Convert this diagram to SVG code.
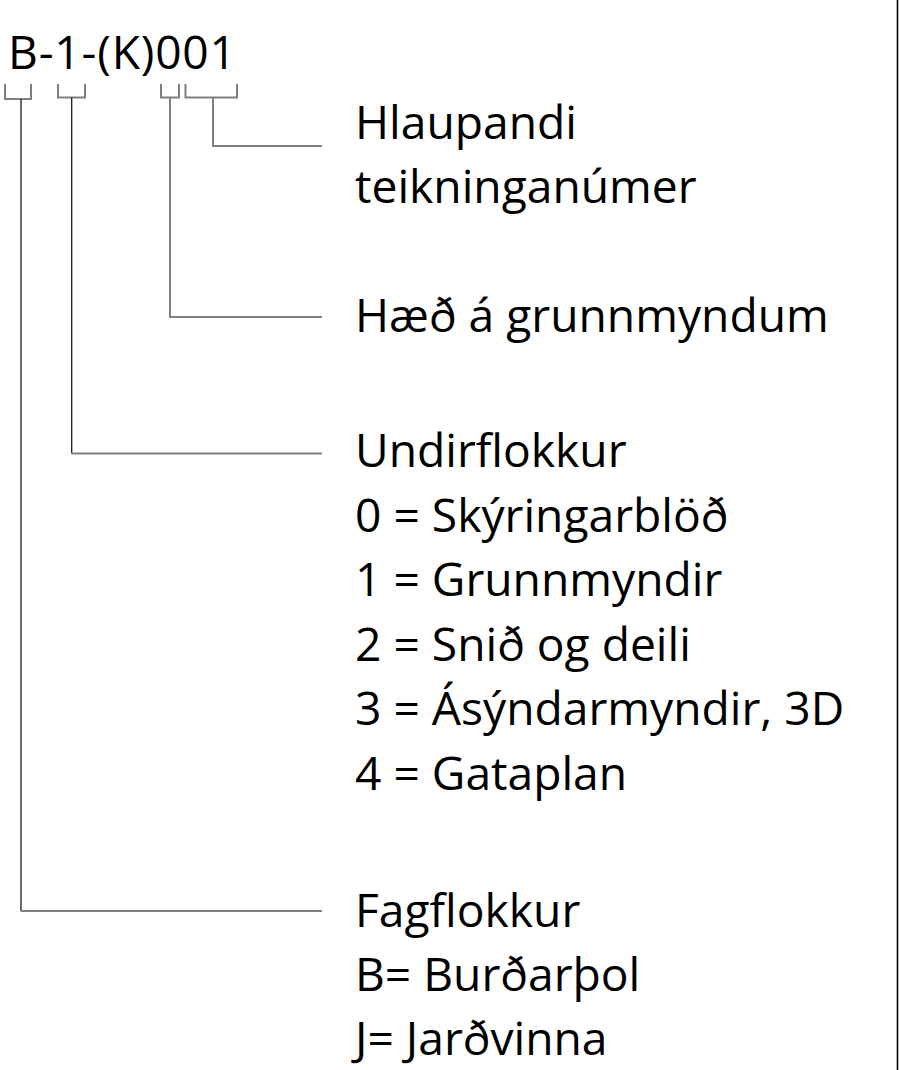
<svg xmlns="http://www.w3.org/2000/svg" width="899" height="1070" viewBox="0 0 899 1070">
<style>
text{font-family:"Open Sans","Noto Sans","DejaVu Sans",sans-serif;font-size:46.2px;fill:#000}
.g{stroke:#808080;stroke-width:2;fill:none}
.k{stroke:#1a1a1a;stroke-width:1.3;fill:none}
</style>
<rect width="899" height="1070" fill="#fff"/>
<line x1="897.5" y1="0" x2="897.5" y2="1070" stroke="#000" stroke-width="1.6"/>
<g id="code"><text x="8" y="69" textLength="228" lengthAdjust="spacing">B-1-(K)001</text></g>
<g id="connectors">
<polyline class="g" points="5,84 5,99 31,99 31,84"/>
<polyline class="g" points="58,84 58,97.5 85,97.5 85,84"/>
<polyline class="g" points="161,84 161,97.5 179,97.5 179,84"/>
<polyline class="g" points="185.5,84 185.5,97.5 237,97.5 237,84"/>
<line class="k" x1="21" y1="99" x2="21" y2="911"/>
<line class="g" x1="20.5" y1="911" x2="322" y2="911"/>
<line class="k" x1="71.7" y1="97.5" x2="71.7" y2="453.5"/>
<line class="g" x1="71" y1="453.5" x2="322" y2="453.5"/>
<line class="g" x1="170" y1="97.5" x2="170" y2="317"/>
<line class="g" x1="169" y1="317" x2="322" y2="317"/>
<line class="g" x1="213" y1="97.5" x2="213" y2="146"/>
<line class="g" x1="212" y1="146" x2="322" y2="146"/>
</g>
<g id="hlaupandi"><text x="355" y="139">Hlaupandi</text><text x="355" y="203">teikninganúmer</text></g>
<g id="haed"><text x="355" y="332">Hæð á grunnmyndum</text></g>
<g id="undirflokkur">
<text x="355" y="467">Undirflokkur</text>
<text x="355" y="531.5">0 = Skýringarblöð</text>
<text x="355" y="596">1 = Grunnmyndir</text>
<text x="355" y="660.5">2 = Snið og deili</text>
<text x="355" y="725">3 = Ásýndarmyndir, 3D</text>
<text x="355" y="789.5">4 = Gataplan</text>
</g>
<g id="fagflokkur">
<text x="355" y="927">Fagflokkur</text>
<text x="355" y="991">B= Burðarþol</text>
<text x="355" y="1055">J= Jarðvinna</text>
</g>
</svg>
